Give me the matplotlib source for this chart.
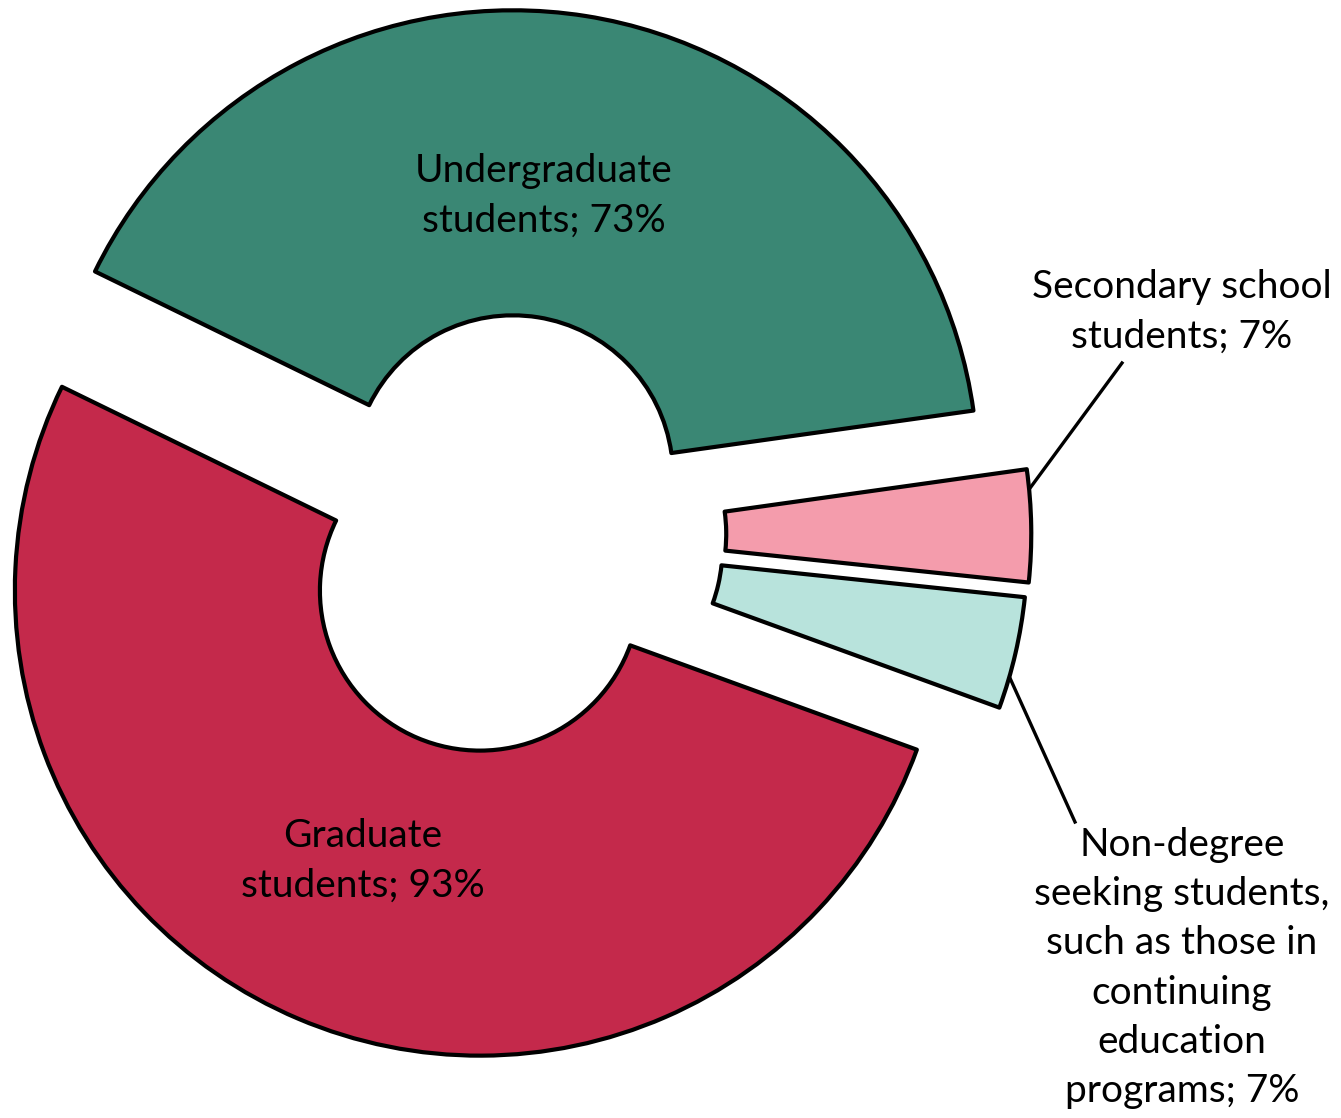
import numpy as np
import matplotlib
matplotlib.use("Agg")
import matplotlib.pyplot as plt

labels = ["Undergraduate\nstudents; 73%",
          "Secondary school\nstudents; 7%",
          "Non-degree\nseeking students,\nsuch as those in\ncontinuing\neducation\nprograms; 7%",
          "Graduate\nstudents; 93%"]
values = [73, 7, 7, 93]
colors = ["#3A8774", "#F49CAC", "#B8E3DC", "#C4294B"]

plt.rcParams['font.family'] = ['Lato', 'DejaVu Sans']

W, H = 1341, 1118
fig = plt.figure(figsize=(W / 100, H / 100), dpi=100)
ax = fig.add_axes([0, 0, 1, 1])

# pie center at (503.5, 535) px, radius 465 px
cx, cy, R = 503.5, 535.0, 465.0

def px(x, y):
    return ((x - cx) / R, (cy - y) / R)

explode = [0.13, 0.135, 0.13, 0.13]
wedges, _ = ax.pie(values, colors=colors, startangle=154, counterclock=False,
                   explode=explode, radius=1,
                   wedgeprops=dict(width=0.656, edgecolor='black', linewidth=3.0,
                                   joinstyle='round'))
ax.set_xlim(-cx / R, (W - cx) / R)
ax.set_ylim(-(H - cy) / R, cy / R)
ax.set_aspect('equal')
ax.axis('off')

fs = 28
ls = 1.45
ax.text(*px(544, 196), labels[0], ha='center', va='center', fontsize=fs, linespacing=ls)
ax.text(*px(363, 861), labels[3], ha='center', va='center', fontsize=fs, linespacing=ls)
ax.text(*px(1182, 312), labels[1], ha='center', va='center', fontsize=fs, linespacing=ls)
ax.text(*px(1182, 968), labels[2], ha='center', va='center', fontsize=fs, linespacing=ls)

# leader lines from outer edge of the small wedges
for w, ang, end in [(wedges[1], 5.5, px(1122, 363)), (wedges[2], -16, px(1075, 822))]:
    c = w.center
    sx = c[0] + w.r * np.cos(np.radians(ang))
    sy = c[1] + w.r * np.sin(np.radians(ang))
    ax.plot([sx, end[0]], [sy, end[1]], color='black', lw=2.4, zorder=0)

fig.savefig("out.png", dpi=100)
